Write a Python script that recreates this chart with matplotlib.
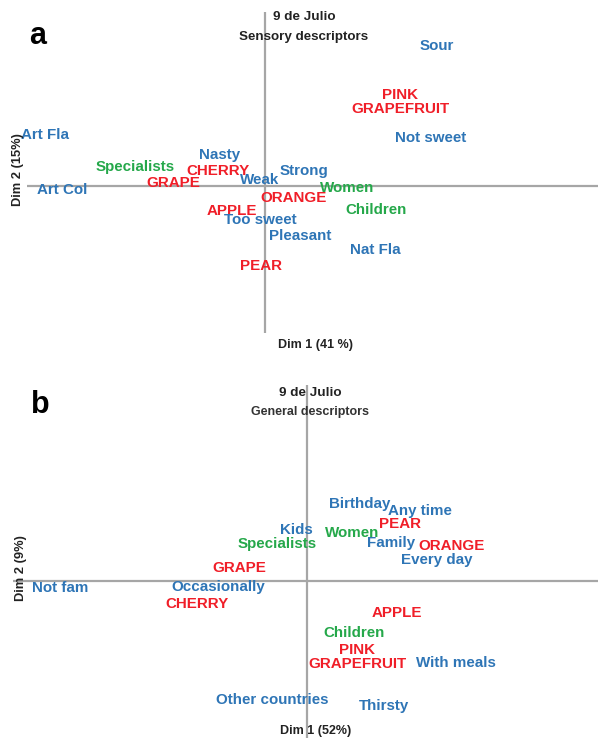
import matplotlib.pyplot as plt

plt.rcParams["font.family"] = ["Liberation Sans", "DejaVu Sans"]

BLUE = "#2e75b6"
RED = "#f01e28"
GREEN = "#25a84a"
AXIS = "#a6a6a6"

# Panel a: sensory descriptors (Dim 1 41 %, Dim 2 15 %)
a_labels = ["Sour", "PINK\nGRAPEFRUIT", "Not sweet", "Art Fla", "Specialists", "Nasty",
            "CHERRY", "GRAPE", "Weak", "Art Col", "ORANGE", "APPLE", "Too sweet",
            "Strong", "Women", "Children", "Pleasant", "Nat Fla", "PEAR"]
a_dim1 = [1.72, 1.35, 1.66, -2.20, -1.30, -0.45, -0.47, -0.92, -0.05, -2.03, 0.29,
          -0.33, -0.05, 0.39, 0.82, 1.11, 0.35, 1.10, -0.04]
a_dim2 = [1.40, 0.84, 0.48, 0.51, 0.19, 0.31, 0.15, 0.03, 0.06, -0.04, -0.12,
          -0.25, -0.34, 0.15, -0.02, -0.24, -0.50, -0.64, -0.80]
a_group = ["d", "s", "d", "d", "c", "d", "s", "s", "d", "d", "s", "s", "d",
           "d", "c", "c", "d", "d", "s"]

# Panel b: general descriptors (Dim 1 52 %, Dim 2 9 %)
b_labels = ["Birthday", "Any time", "PEAR", "Kids", "Women", "Specialists", "Family",
            "ORANGE", "Every day", "GRAPE", "Not fam", "Occasionally", "CHERRY",
            "APPLE", "Children", "PINK\nGRAPEFRUIT", "With meals", "Other countries",
            "Thirsty"]
b_dim1 = [0.53, 1.13, 0.93, -0.11, 0.45, -0.30, 0.84, 1.45, 1.30, -0.68, -2.47,
          -0.89, -1.10, 0.90, 0.47, 0.50, 1.49, -0.35, 0.77]
b_dim2 = [0.77, 0.70, 0.57, 0.51, 0.48, 0.37, 0.38, 0.35, 0.21, 0.13, -0.07,
          -0.06, -0.23, -0.32, -0.52, -0.76, -0.82, -1.19, -1.25]
b_group = ["d", "d", "s", "d", "c", "c", "d", "s", "d", "s", "d", "d", "s",
           "s", "c", "s", "d", "d", "d"]

colors = {"d": BLUE, "s": RED, "c": GREEN}

W, H = 598, 738
fig = plt.figure(figsize=(W / 100, H / 100), dpi=100)


def px_axes(x0, y0, x1, y1):
    # axes box given in pixels from top-left
    return fig.add_axes([x0 / W, 1 - y1 / H, (x1 - x0) / W, (y1 - y0) / H])


def ftext(x, y, s, **kw):
    fig.text(x / W, 1 - y / H, s, **kw)


def draw_panel(ax, xlim, ylim, labels, d1, d2, groups):
    ax.set_xlim(*xlim)
    ax.set_ylim(*ylim)
    ax.axhline(0, color=AXIS, lw=1.6, zorder=1)
    ax.axvline(0, color=AXIS, lw=1.6, zorder=1)
    for lab, x, y, g in zip(labels, d1, d2, groups):
        ax.text(x, y, lab, color=colors[g], fontsize=10.9, fontweight="bold",
                ha="center", va="center", linespacing=1.02, zorder=2)
    ax.axis("off")


ax_a = px_axes(27, 12, 598, 333)
draw_panel(ax_a, (-2.38, 3.33), (-1.47, 1.74), a_labels, a_dim1, a_dim2, a_group)

ax_b = px_axes(13, 385, 598, 738)
draw_panel(ax_b, (-2.94, 2.91), (-1.57, 1.96), b_labels, b_dim1, b_dim2, b_group)

# titles and axis names
ftext(38, 36, "a", fontsize=22, fontweight="bold", ha="center", va="center")
ftext(40, 405, "b", fontsize=22, fontweight="bold", ha="center", va="center")

ftext(304, 17, "9 de Julio", fontsize=9.7, fontweight="bold", color="#222222",
      ha="center", va="center")
ftext(304, 37, "Sensory descriptors", fontsize=9.6, fontweight="bold", color="#222222",
      ha="center", va="center")
ftext(310, 393, "9 de Julio", fontsize=9.7, fontweight="bold", color="#222222",
      ha="center", va="center")
ftext(310, 412, "General descriptors", fontsize=9.0, fontweight="bold", color="#333333",
      ha="center", va="center")

ftext(315, 345, "Dim 1 (41 %)", fontsize=9.0, fontweight="bold", color="#222222",
      ha="center", va="center")
ftext(18, 170, "Dim 2 (15%)", fontsize=9.3, fontweight="bold", color="#222222",
      ha="center", va="center", rotation=90)
ftext(316, 731, "Dim 1 (52%)", fontsize=9.0, fontweight="bold", color="#222222",
      ha="center", va="center")
ftext(21, 568, "Dim 2 (9%)", fontsize=9.3, fontweight="bold", color="#222222",
      ha="center", va="center", rotation=90)

fig.savefig("out.png", dpi=100)
plt.close(fig)
